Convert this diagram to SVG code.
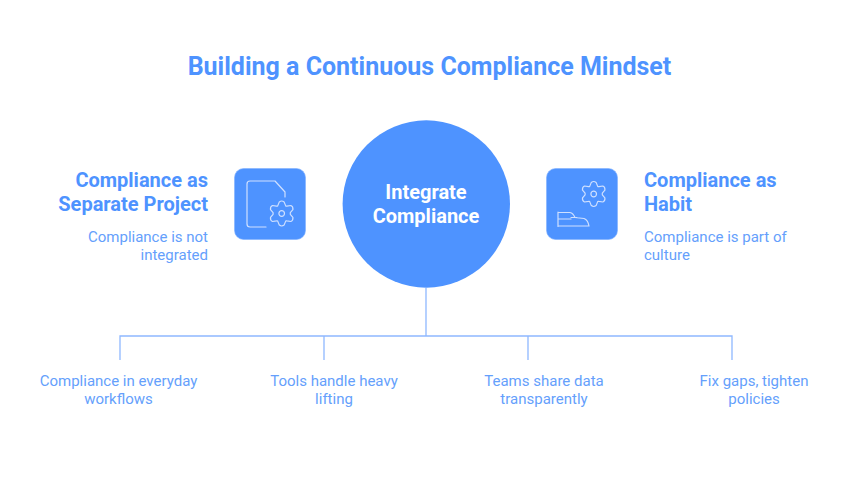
<svg xmlns="http://www.w3.org/2000/svg" xmlns:xlink="http://www.w3.org/1999/xlink" width="858" height="493" viewBox="0 0 858 493">
<style>
text{font-family:Roboto,"Liberation Sans",sans-serif}
.t{font-weight:700;font-size:25px;fill:#4e93ff}
.h{font-weight:700;font-size:20px;fill:#4e93ff}
.b{font-size:15px;fill:#659ffc}
.c{font-weight:700;font-size:20px;fill:#fff;text-anchor:middle}
.m{text-anchor:middle}.e{text-anchor:end}
.l{fill:none;stroke:#8fb8ff;stroke-width:1.3}
.i{fill:none;stroke:#cfe0ff;stroke-width:1.2;stroke-linejoin:round;stroke-linecap:round}
.box{fill:#4e93ff;stroke:#7fb0ff;stroke-width:.6}
</style>
<defs>
<g id="gear">
<path class="i" d="M-2.4,-11.6 Q0,-13.4 2.4,-11.6 L4,-7.6 Q4.6,-7.2 5.2,-7.4 L9.2,-8 Q11.6,-7 11.2,-3.8 L8.6,-.8 V.8 L11.2,3.8 Q11.6,7 9.2,8 L5.2,7.4 Q4.6,7.2 4,7.6 L2.4,11.6 Q0,13.4 -2.4,11.6 L-4,7.6 Q-4.6,7.2 -5.2,7.4 L-9.2,8 Q-11.6,7 -11.2,3.8 L-8.6,.8 V-.8 L-11.2,-3.8 Q-11.6,-7 -9.200,-8 L-5.2,-7.4 Q-4.6,-7.200 -4,-7.6 Z"/>
<circle class="i" r="2.8"/>
</g>
</defs>
<rect width="858" height="493" fill="#fff"/>
<text class="t" x="429.500" y="75" text-anchor="middle">Building a Continuous Compliance Mindset</text>
<g id="connectors">
<path class="l" d="M426 288V336M120 360V336H732V360M324 336V360M528 336V360"/>
</g>
<g id="center">
<circle cx="426.300" cy="204" r="83.700" fill="#4e93ff"/>
<text class="c" x="426" y="199">Integrate</text>
<text class="c" x="426" y="223">Compliance</text>
</g>
<g id="left-node">
<text class="h e" x="208" y="187">Compliance as</text>
<text class="h e" x="208" y="211">Separate Project</text>
<text class="b e" x="208" y="242">Compliance is not</text>
<text class="b e" x="208" y="260">integrated</text>
<rect class="box" x="234.500" y="168.500" width="71" height="71" rx="9"/>
<path class="i" d="M266 227H250Q247 227 247 224V184Q247 181 250 181H275L285 192V197"/>
<use xlink:href="#gear" x="281.700" y="213.500"/>
</g>
<g id="right-node">
<rect class="box" x="546.500" y="168.500" width="71" height="71" rx="9"/>
<use xlink:href="#gear" x="593.700" y="194"/>
<path class="i" d="M558 212V226.500M558 212.500H570Q573 213 575 217.500L584 218.500Q588 220 589 226H558M558 219H571M571 217.500H577"/>
<text class="h" x="644" y="187">Compliance as</text>
<text class="h" x="644" y="211">Habit</text>
<text class="b" x="644" y="242">Compliance is part of</text>
<text class="b" x="644" y="260">culture</text>
</g>
<g id="leaf-1"><text class="b m" x="118.500" y="386">Compliance in everyday</text><text class="b m" x="118.500" y="404">workflows</text></g>
<g id="leaf-2"><text class="b m" x="334" y="386">Tools handle heavy</text><text class="b m" x="334" y="404">lifting</text></g>
<g id="leaf-3"><text class="b m" x="544" y="386">Teams share data</text><text class="b m" x="544" y="404">transparently</text></g>
<g id="leaf-4"><text class="b m" x="754" y="386">Fix gaps, tighten</text><text class="b m" x="754" y="404">policies</text></g>
</svg>
